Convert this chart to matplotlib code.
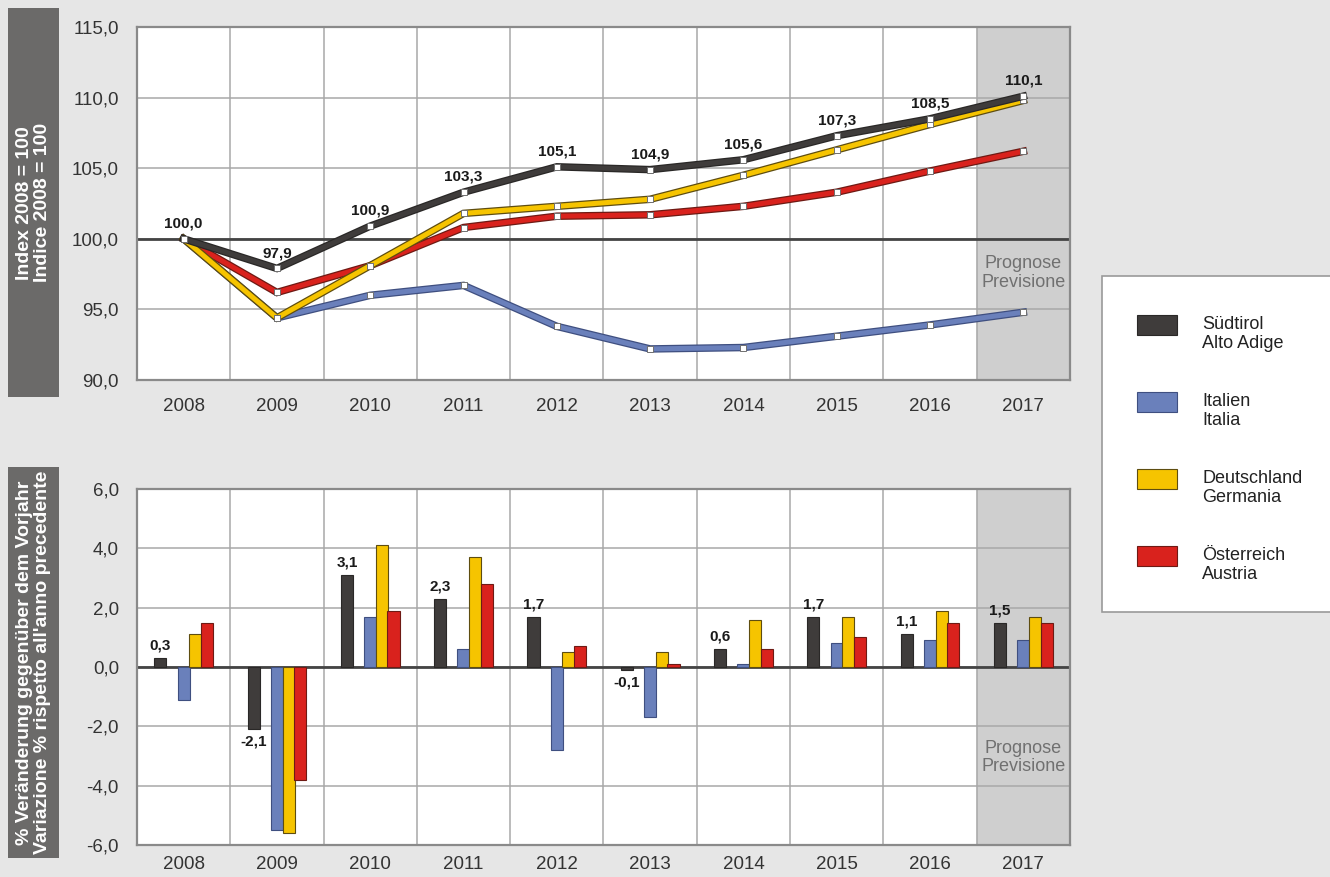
import numpy as np
import matplotlib
matplotlib.use("Agg")
import matplotlib.pyplot as plt
import matplotlib.patheffects as pe
from matplotlib.patches import Rectangle
from matplotlib.ticker import FuncFormatter

plt.rcParams['font.family'] = ['Liberation Sans', 'DejaVu Sans']

# Daten
years = ['2008', '2009', '2010', '2011', '2012', '2013', '2014', '2015', '2016', '2017']
series = ['Südtirol\nAlto Adige', 'Italien\nItalia', 'Deutschland\nGermania', 'Österreich\nAustria']

idx_suedtirol = [100.0, 97.9, 100.9, 103.3, 105.1, 104.9, 105.6, 107.3, 108.5, 110.1]
idx_italien = [100.0, 94.4, 96.0, 96.7, 93.8, 92.2, 92.3, 93.1, 93.9, 94.8]
idx_deutschland = [100.0, 94.4, 98.1, 101.8, 102.3, 102.8, 104.5, 106.3, 108.1, 109.8]
idx_oesterreich = [100.0, 96.2, 98.1, 100.8, 101.6, 101.7, 102.3, 103.3, 104.8, 106.2]

chg_suedtirol = [0.3, -2.1, 3.1, 2.3, 1.7, -0.1, 0.6, 1.7, 1.1, 1.5]
chg_italien = [-1.1, -5.5, 1.7, 0.6, -2.8, -1.7, 0.1, 0.8, 0.9, 0.9]
chg_deutschland = [1.1, -5.6, 4.1, 3.7, 0.5, 0.5, 1.6, 1.7, 1.9, 1.7]
chg_oesterreich = [1.5, -3.8, 1.9, 2.8, 0.7, 0.1, 0.6, 1.0, 1.5, 1.5]

colors = ['#3f3c3b', '#6a80bb', '#f6c400', '#d9221d']
edges = ['#2a2827', '#3f4f80', '#5e4d10', '#6e1a14']
bg = '#e6e6e6'

W, H = 1330, 877
x = np.arange(len(years))
komma = FuncFormatter(lambda v, p: f"{v:.1f}".replace('.', ','))


def style_axes(ax, base, xpad):
    ax.set_facecolor('white')
    ax.set_xlim(-0.5, len(years) - 0.5)
    ax.set_xticks(x)
    ax.set_xticklabels(years)
    ax.set_xticks(np.arange(0.5, len(years) - 1), minor=True)
    ax.tick_params(which='both', length=0, labelsize=13.5, colors='#333333')
    ax.tick_params(axis='x', pad=xpad)
    ax.tick_params(axis='y', pad=13)
    ax.yaxis.set_major_formatter(komma)
    ax.grid(which='minor', axis='x', color='#a8a8a8', lw=1.1, zorder=0.5)
    ax.grid(which='major', axis='y', color='#a8a8a8', lw=1.1, zorder=0.5)
    ax.set_axisbelow(True)
    ax.axvspan(8.5, 9.5, color='#cfcfcf', zorder=0.2)
    ax.axhline(base, color='#444444', lw=2, zorder=1.5)
    for s in ax.spines.values():
        s.set_color('#8a8a8a')
        s.set_linewidth(1.6)


fig = plt.figure(figsize=(W / 100, H / 100), dpi=100)
fig.patch.set_facecolor(bg)

# oberes Diagramm: Index
ax1 = fig.add_axes([0.103, 0.5667, 0.7015, 0.4025])
style_axes(ax1, 100, 13)
ax1.set_ylim(90, 115)
ax1.set_yticks(np.arange(90, 116, 5))

idx_all = [idx_suedtirol, idx_italien, idx_deutschland, idx_oesterreich]
for i in [1, 3, 2, 0]:
    z = 3 + (i == 0)
    ax1.plot(x, idx_all[i], color=colors[i], lw=3.6, zorder=z, solid_joinstyle='miter',
             path_effects=[pe.Stroke(linewidth=5.4, foreground=edges[i]), pe.Normal()])
    ax1.plot(x, idx_all[i], ls='none', marker='s', markersize=5, markerfacecolor='white',
             markeredgecolor='#707070', markeredgewidth=0.7, zorder=z + 0.1)

for xi, v in zip(x, idx_suedtirol):
    ax1.annotate(f"{v:.1f}".replace('.', ','), (xi, v), xytext=(0, 11),
                 textcoords='offset points', ha='center', va='center',
                 fontsize=11, fontweight='bold', color='#1a1a1a', zorder=6)

ax1.text(9, 97.6, 'Prognose\nPrevisione', ha='center', va='center',
         fontsize=13, color='#707070', linespacing=1.15)

# unteres Diagramm: Veränderung
ax2 = fig.add_axes([0.103, 0.0365, 0.7015, 0.4059])
style_axes(ax2, 0, 8)
ax2.set_ylim(-6, 6)
ax2.set_yticks(np.arange(-6, 6.1, 2))

chg_all = [chg_suedtirol, chg_italien, chg_deutschland, chg_oesterreich]
offsets = [-0.25, 0.0, 0.125, 0.25]
for i in range(4):
    ax2.bar(x + offsets[i], chg_all[i], width=0.13, color=colors[i],
            edgecolor=edges[i], linewidth=0.8, zorder=2)

for xi, v in zip(x, chg_suedtirol):
    dy = 9 if v >= 0 else -9
    ax2.annotate(f"{v:.1f}".replace('.', ','), (xi - 0.25, v), xytext=(0, dy),
                 textcoords='offset points', ha='center', va='center',
                 fontsize=11, fontweight='bold', color='#1a1a1a', zorder=6)

ax2.text(9, -3.05, 'Prognose\nPrevisione', ha='center', va='center',
         fontsize=13, color='#707070', linespacing=1.15)

# Achsentitel in grauen Kästen
fig.patches.append(Rectangle((0.006, 0.547), 0.0384, 0.4436, transform=fig.transFigure,
                             facecolor='#6b6a69', edgecolor='none', zorder=0))
fig.patches.append(Rectangle((0.006, 0.0217), 0.0384, 0.4458, transform=fig.transFigure,
                             facecolor='#6b6a69', edgecolor='none', zorder=0))
fig.text(0.0252, 0.7688, 'Index 2008 = 100\nIndice 2008 = 100', rotation=90,
         ha='center', va='center', multialignment='center', color='white',
         fontsize=14, fontweight='bold', linespacing=1.05)
fig.text(0.0252, 0.2446, '% Veränderung gegenüber dem Vorjahr\nVariazione % rispetto all\'anno precedente',
         rotation=90, ha='center', va='center', multialignment='center', color='white',
         fontsize=14, fontweight='bold', linespacing=1.05)

# Legende (Kasten mit Farbfeldern)
fig.patches.append(Rectangle((0.8286, 0.3022), 0.175, 0.3831, transform=fig.transFigure,
                             facecolor='white', edgecolor='#9a9a9a', lw=1.2, zorder=0))
for k, name in enumerate(series):
    top = 315 + 77 * k
    fig.patches.append(Rectangle((1137 / W, 1 - (top + 20) / H), 40 / W, 20 / H,
                                 transform=fig.transFigure, facecolor=colors[k],
                                 edgecolor=edges[k], lw=0.8, zorder=1))
    fig.text(1202 / W, 1 - (top + 1) / H, name, ha='left', va='top',
             fontsize=13, color='#222222', linespacing=1.12)

fig.savefig('out.png', dpi=100, facecolor=bg)
